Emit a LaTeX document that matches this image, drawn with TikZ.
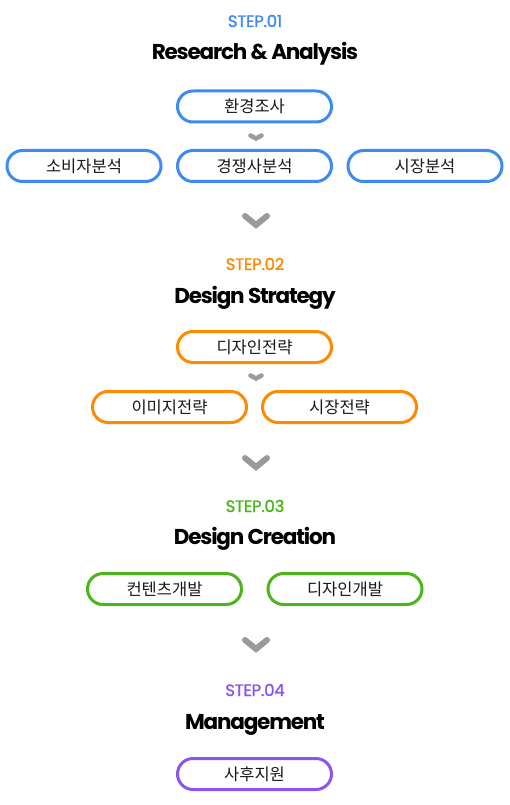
\documentclass[tikz,border=0pt]{standalone}
\usepackage{fontspec}
\setmainfont{Poppins}
\newfontfamily\kr{Noto Sans CJK KR}
\newfontfamily\head{Poppins}[LetterSpace=-5.5]
\newfontfamily\stepfont{Poppins}[LetterSpace=-1.5, FakeBold=1.5]
\definecolor{cblue}{HTML}{3D8BF2}
\definecolor{corange}{HTML}{FF8A00}
\definecolor{cgreen}{HTML}{4CB51C}
\definecolor{cpurple}{HTML}{8B55F0}
\definecolor{cgray}{HTML}{9A9A9A}
\tikzset{
  pill/.style={draw=#1, line width=3pt, rounded corners=15.5pt, minimum width=154pt, minimum height=31pt, inner sep=0pt, font=\kr\fontsize{16.5}{19}\selectfont, text=black!90},
  steplabel/.style={text=#1, font=\stepfont\fontsize{16.5}{19}\selectfont, inner sep=0pt, anchor=base},
  title/.style={font=\head\bfseries\fontsize{21.5}{25}\selectfont, inner sep=0pt, anchor=base},
  bigchev/.style={draw=cgray, line width=6pt, line cap=round, line join=miter},
  smallchev/.style={draw=cgray, line width=4.5pt, line cap=round, line join=miter}
}
\begin{document}
\begin{tikzpicture}[x=1pt, y=-1pt]
\useasboundingbox (0,0) rectangle (510,805);
% STEP 01
\node[steplabel=cblue] (s1) at (255,27) {STEP.01};
\node[title] (t1) at (255,60) {Research \& Analysis};
\node[pill=cblue] (a1) at (254.5,106.5) {환경조사};
\draw[smallchev] (250.5,135.5) -- (256,138.5) -- (261.5,135.5);
\node[pill=cblue] (a2) at (84,166) {소비자분석};
\node[pill=cblue] (a3) at (254.5,166) {경쟁사분석};
\node[pill=cblue] (a4) at (425,166) {시장분석};
\draw[bigchev] (245,216) -- (256,225) -- (267,216);
% STEP 02
\node[steplabel=corange] (s2) at (255,270) {STEP.02};
\node[title] (t2) at (255,303) {Design Strategy};
\node[pill=corange] (b1) at (254.5,347) {디자인전략};
\draw[smallchev] (250.5,375.5) -- (256,378.5) -- (261.5,375.5);
\node[pill=corange] (b2) at (169.5,407) {이미지전략};
\node[pill=corange] (b3) at (339.5,407) {시장전략};
\draw[bigchev] (245,458) -- (256,467) -- (267,458);
% STEP 03
\node[steplabel=cgreen] (s3) at (255,512) {STEP.03};
\node[title] (t3) at (255,544) {Design Creation};
\node[pill=cgreen] (c1) at (164.5,589) {컨텐츠개발};
\node[pill=cgreen] (c2) at (345,589) {디자인개발};
\draw[bigchev] (245,640) -- (256,649) -- (267,640);
% STEP 04
\node[steplabel=cpurple] (s4) at (255,696) {STEP.04};
\node[title] (t4) at (255,729) {Management};
\node[pill=cpurple] (d1) at (254.5,774) {사후지원};
\end{tikzpicture}
\end{document}
